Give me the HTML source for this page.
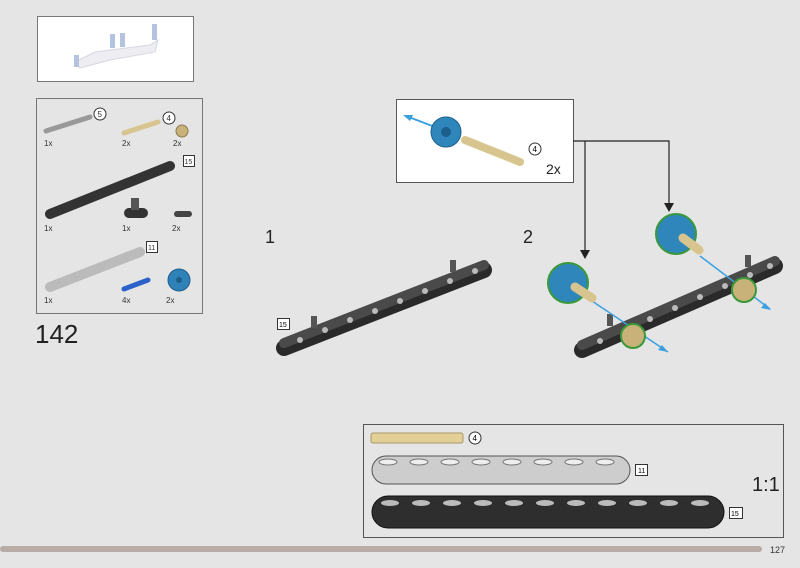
<!DOCTYPE html>
<html><head><style>
html,body{margin:0;padding:0;background:#e5e5e5;}
svg{display:block;font-family:"Liberation Sans",sans-serif;}
</style></head><body>
<svg width="800" height="568" viewBox="0 0 800 568">
<rect width="800" height="568" fill="#e5e5e5"/>
<!-- thumbnail -->
<rect x="37.5" y="16.5" width="156" height="65" fill="#fff" stroke="#777" stroke-width="1"/>
<path d="M75 62 L95 52 L150 45 L158 40 L155 52 L110 60 L80 68 Z" fill="#eeeef2" stroke="#d4d8e0"/>
<rect x="74" y="55" width="5" height="12" fill="#b4c4e0"/><rect x="110" y="34" width="5" height="14" fill="#b4c4e0"/>
<rect x="120" y="33" width="5" height="14" fill="#b4c4e0"/><rect x="152" y="24" width="5" height="16" fill="#b4c4e0"/>
<!-- parts box -->
<rect x="36.5" y="98.5" width="166" height="215" fill="#e5e5e5" stroke="#777"/>
<g font-size="8" fill="#333">
<line x1="46" y1="131" x2="90" y2="117" stroke="#999" stroke-width="5" stroke-linecap="round"/>
<circle cx="100" cy="114" r="6" fill="#fff" stroke="#333"/><text x="97.5" y="117" font-size="8">5</text>
<text x="44" y="146">1x</text>
<line x1="124" y1="133" x2="158" y2="122" stroke="#d8c48e" stroke-width="5" stroke-linecap="round"/>
<circle cx="169" cy="118" r="6" fill="#fff" stroke="#333"/><text x="166.5" y="121">4</text>
<circle cx="182" cy="131" r="6" fill="#c9b27a" stroke="#8a7a50"/>
<text x="122" y="146">2x</text><text x="173" y="146">2x</text>
<line x1="50" y1="214" x2="170" y2="166" stroke="#333" stroke-width="10" stroke-linecap="round"/>
<rect x="183.5" y="155.5" width="11" height="11" fill="#fff" stroke="#333"/><text x="184.5" y="164" font-size="7">15</text>
<text x="44" y="231">1x</text>
<rect x="124" y="208" width="24" height="10" rx="5" fill="#333"/><rect x="131" y="198" width="8" height="12" fill="#555"/>
<text x="122" y="231">1x</text>
<rect x="174" y="211" width="18" height="6" rx="3" fill="#444"/><text x="172" y="231">2x</text>
<line x1="50" y1="287" x2="140" y2="252" stroke="#bbb" stroke-width="10" stroke-linecap="round"/>
<rect x="146.5" y="241.5" width="11" height="11" fill="#fff" stroke="#333"/><text x="148" y="250" font-size="7">11</text>
<text x="44" y="303">1x</text>
<line x1="124" y1="289" x2="148" y2="280" stroke="#2a62c8" stroke-width="5" stroke-linecap="round"/><text x="122" y="303">4x</text>
<circle cx="179" cy="280" r="11" fill="#2e82b8" stroke="#1d5f8c"/><circle cx="179" cy="280" r="3" fill="#1d5f8c"/><text x="166" y="303">2x</text>
</g>
<text x="35" y="343" font-size="26" fill="#222">142</text>
<text x="265" y="243" font-size="18" fill="#222">1</text>
<text x="523" y="243" font-size="18" fill="#222">2</text>
<!-- step 1 beam -->
<line x1="284" y1="348" x2="484" y2="270" stroke="#2a2a2a" stroke-width="16" stroke-linecap="round"/>
<line x1="284" y1="343" x2="484" y2="265" stroke="#4a4a4a" stroke-width="10" stroke-linecap="round"/>
<g fill="#bbb"><circle cx="300" cy="340" r="3"/><circle cx="325" cy="330" r="3"/><circle cx="350" cy="320" r="3"/><circle cx="375" cy="311" r="3"/><circle cx="400" cy="301" r="3"/><circle cx="425" cy="291" r="3"/><circle cx="450" cy="281" r="3"/><circle cx="475" cy="271" r="3"/></g>
<rect x="311" y="316" width="6" height="12" fill="#555"/><rect x="450" y="260" width="6" height="12" fill="#555"/>
<rect x="277.5" y="318.5" width="12" height="11" fill="#fff" stroke="#333"/><text x="279" y="327" font-size="7">15</text>
<!-- callout -->
<rect x="396.5" y="99.5" width="177" height="83" fill="#fff" stroke="#555"/>
<line x1="406" y1="116" x2="435" y2="127" stroke="#3aa0e0" stroke-width="2"/><polygon points="403,115 413,115 410,121" fill="#3aa0e0"/>
<circle cx="446" cy="132" r="15" fill="#2e86bb" stroke="#1d5f8c"/><circle cx="446" cy="132" r="5" fill="#1d5f8c"/>
<line x1="465" y1="140" x2="520" y2="162" stroke="#d8c48e" stroke-width="8" stroke-linecap="round"/>
<circle cx="535" cy="149" r="6" fill="#fff" stroke="#333"/><text x="532.5" y="152" font-size="8">4</text>
<text x="546" y="174" font-size="14" fill="#222">2x</text>
<!-- connectors -->
<polyline points="573,141 669,141 669,205" fill="none" stroke="#222" stroke-width="1.2"/>
<polygon points="664,203 674,203 669,212" fill="#222"/>
<line x1="585" y1="141" x2="585" y2="252" stroke="#222" stroke-width="1.2"/>
<polygon points="580,250 590,250 585,259" fill="#222"/>
<!-- step 2 beam -->
<line x1="582" y1="350" x2="775" y2="266" stroke="#2a2a2a" stroke-width="16" stroke-linecap="round"/>
<line x1="582" y1="345" x2="775" y2="261" stroke="#4a4a4a" stroke-width="10" stroke-linecap="round"/>
<g fill="#bbb"><circle cx="600" cy="341" r="3"/><circle cx="625" cy="330" r="3"/><circle cx="650" cy="319" r="3"/><circle cx="675" cy="308" r="3"/><circle cx="700" cy="297" r="3"/><circle cx="725" cy="286" r="3"/><circle cx="750" cy="275" r="3"/><circle cx="770" cy="266" r="3"/></g>
<rect x="607" y="314" width="6" height="12" fill="#555"/><rect x="745" y="255" width="6" height="12" fill="#555"/>
<line x1="592" y1="301" x2="668" y2="352" stroke="#3aa0e0" stroke-width="1.5"/><polygon points="668,352 658,350 662,345" fill="#3aa0e0"/>
<line x1="700" y1="256" x2="770" y2="309" stroke="#3aa0e0" stroke-width="1.5"/><polygon points="771,310 761,308 765,303" fill="#3aa0e0"/>
<circle cx="568" cy="283" r="20" fill="#2e86bb" stroke="#3a9a3a" stroke-width="2"/>
<line x1="575" y1="287" x2="592" y2="298" stroke="#d8c48e" stroke-width="9" stroke-linecap="round"/>
<circle cx="676" cy="234" r="20" fill="#2e86bb" stroke="#3a9a3a" stroke-width="2"/>
<line x1="683" y1="238" x2="699" y2="250" stroke="#d8c48e" stroke-width="9" stroke-linecap="round"/>
<circle cx="633" cy="336" r="12" fill="#c9b27a" stroke="#3a9a3a" stroke-width="2"/>
<circle cx="744" cy="290" r="12" fill="#c9b27a" stroke="#3a9a3a" stroke-width="2"/>
<!-- bottom box -->
<rect x="363.5" y="424.5" width="420" height="113" fill="#e5e5e5" stroke="#555"/>
<rect x="371" y="433" width="92" height="10" rx="2" fill="#e3cf98" stroke="#a89868"/>
<circle cx="475" cy="438" r="6" fill="#fff" stroke="#333"/><text x="472.5" y="441" font-size="8">4</text>
<rect x="372" y="456" width="258" height="28" rx="14" fill="#cdcdcd" stroke="#555"/>
<g fill="#eee" stroke="#777"><ellipse cx="388" cy="462" rx="9" ry="3"/><ellipse cx="419" cy="462" rx="9" ry="3"/><ellipse cx="450" cy="462" rx="9" ry="3"/><ellipse cx="481" cy="462" rx="9" ry="3"/><ellipse cx="512" cy="462" rx="9" ry="3"/><ellipse cx="543" cy="462" rx="9" ry="3"/><ellipse cx="574" cy="462" rx="9" ry="3"/><ellipse cx="605" cy="462" rx="9" ry="3"/></g>
<rect x="635.5" y="464.5" width="12" height="11" fill="#fff" stroke="#333"/><text x="638" y="473" font-size="7">11</text>
<rect x="372" y="496" width="352" height="32" rx="16" fill="#2e2e2e" stroke="#111"/>
<g fill="#bbb"><ellipse cx="390" cy="503" rx="9" ry="3"/><ellipse cx="421" cy="503" rx="9" ry="3"/><ellipse cx="452" cy="503" rx="9" ry="3"/><ellipse cx="483" cy="503" rx="9" ry="3"/><ellipse cx="514" cy="503" rx="9" ry="3"/><ellipse cx="545" cy="503" rx="9" ry="3"/><ellipse cx="576" cy="503" rx="9" ry="3"/><ellipse cx="607" cy="503" rx="9" ry="3"/><ellipse cx="638" cy="503" rx="9" ry="3"/><ellipse cx="669" cy="503" rx="9" ry="3"/><ellipse cx="700" cy="503" rx="9" ry="3"/></g>
<rect x="729.5" y="507.5" width="13" height="11" fill="#fff" stroke="#333"/><text x="731" y="516" font-size="7">15</text>
<text x="752" y="491" font-size="20" fill="#222">1:1</text>
<!-- footer -->
<rect x="0" y="546" width="762" height="6" rx="3" fill="#b8aca6"/>
<text x="770" y="553" font-size="9" fill="#333">127</text>
</svg>
</body></html>
